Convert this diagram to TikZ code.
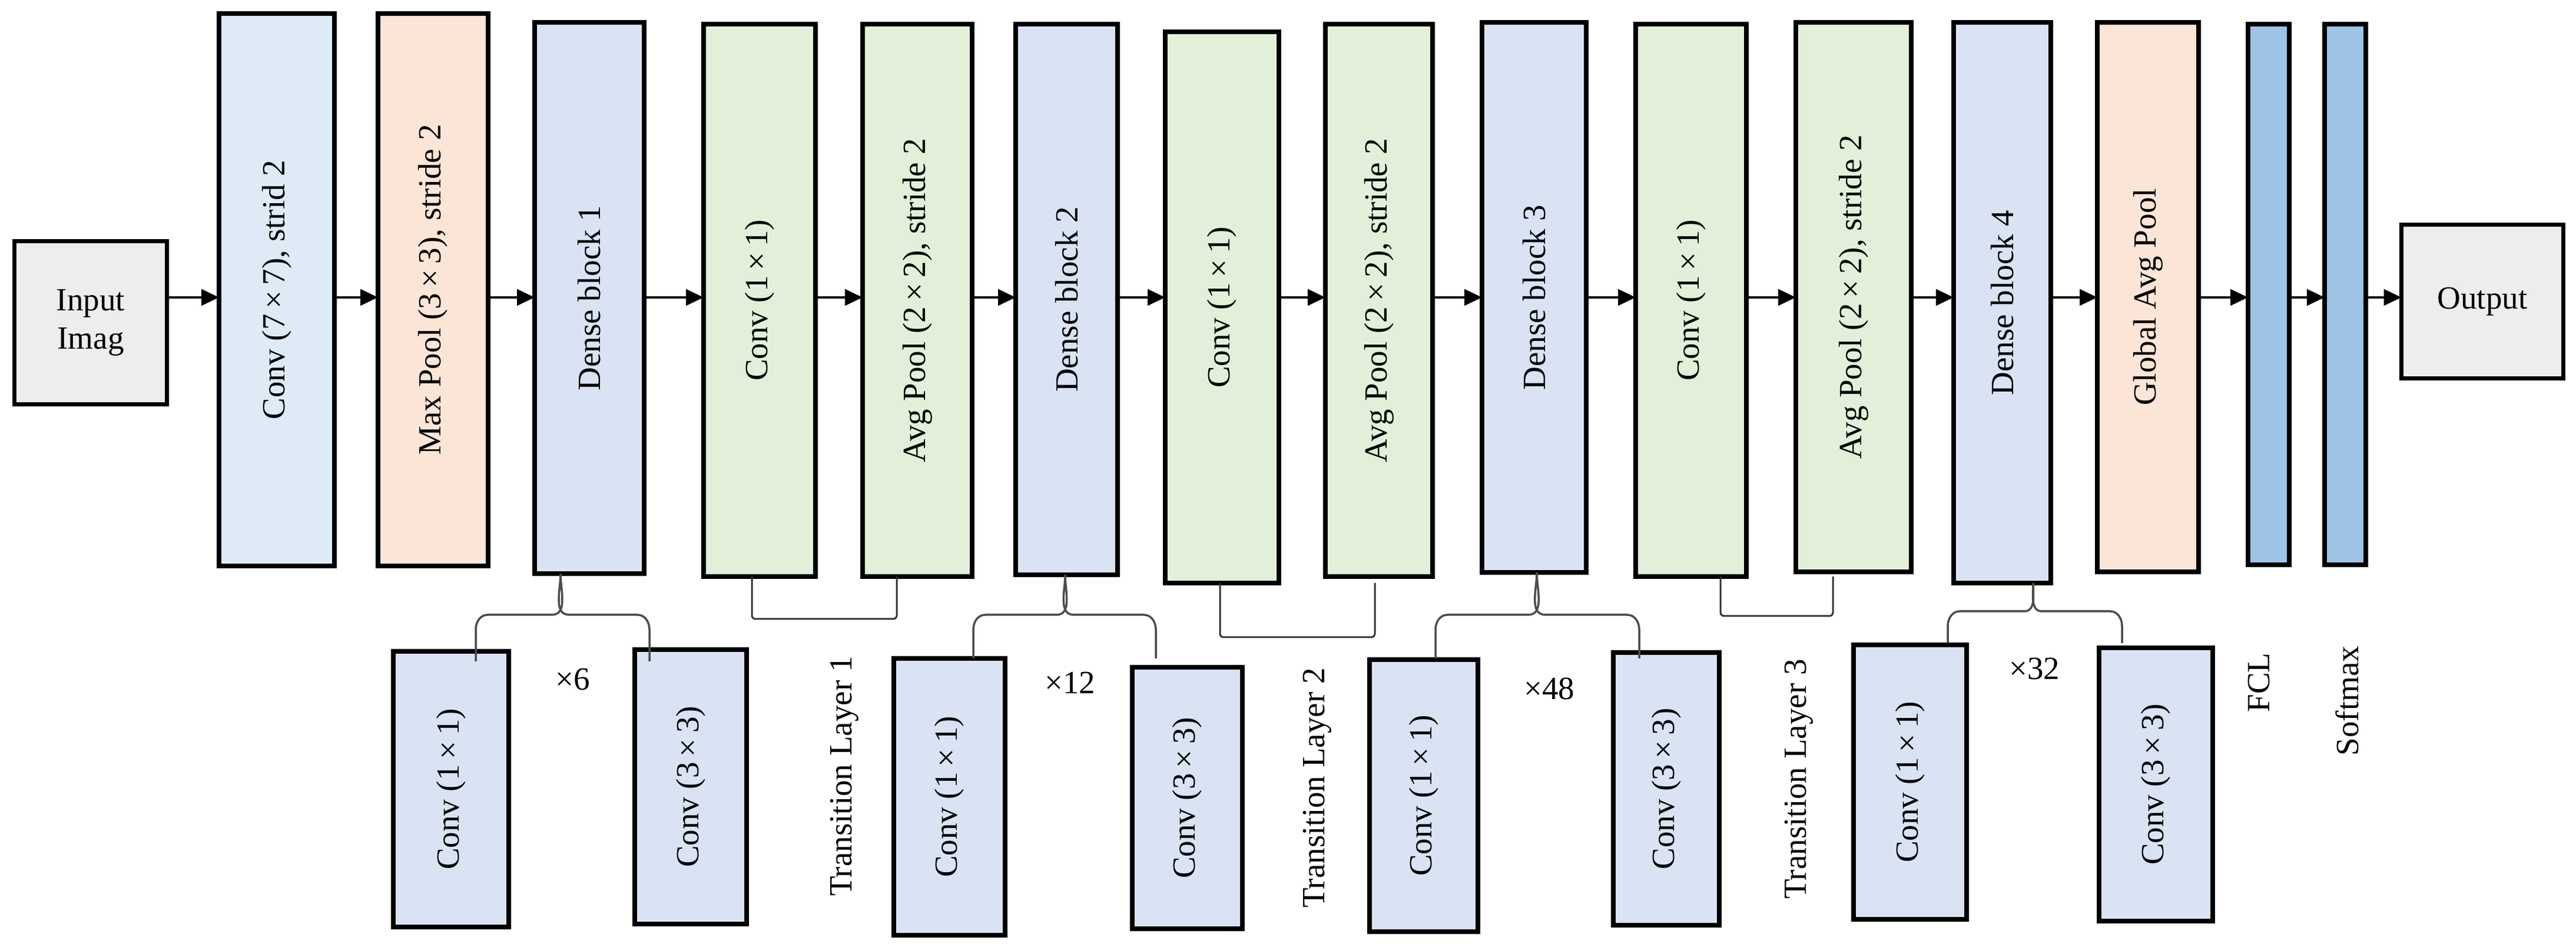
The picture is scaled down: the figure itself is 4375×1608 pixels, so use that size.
\documentclass[tikz,border=0pt]{standalone}
\usepackage{fontspec}
\setmainfont{Liberation Serif}
\usetikzlibrary{arrows.meta}
\definecolor{cA}{HTML}{DEEBF7}
\definecolor{cP}{HTML}{FBE5D6}
\definecolor{cD}{HTML}{DAE3F3}
\definecolor{cG}{HTML}{E2F0D9}
\definecolor{cY}{HTML}{EDEDED}
\definecolor{cB}{HTML}{9DC3E6}
\tikzset{
  box/.style={draw=black,line width=1.5pt,inner sep=0pt,outer sep=0pt},
  lbl/.style={font=\fontsize{11}{13}\selectfont},
  arr/.style={line width=0.8pt,-{Triangle[length=6pt,width=5.5pt]}},
  brc/.style={line width=0.7pt,draw=black!70},
  brk/.style={line width=0.6pt,draw=black!80}
}
\newcommand\bx[7]{\node[box,fill=#6,minimum width={(#4-#2)*0.2pt},minimum height={(#5-#3)*0.2pt}] (#1) at ({(#2+#4)/2},{(#3+#5)/2}) {};
\node[lbl,rotate=90] at (#1) {#7};}
\newcommand\ar[2]{\draw[arr] (#1.east |- ay) -- (#2.west |- ay);}
% tipx tipy lx rx hy by
\newcommand\mybrace[6]{\draw[brc] (#3,#6) -- (#3,#5+25) to[out=90,in=180] (#3+20,#5) -- (#1-15,#5) to[out=0,in=-90] (#1,#2)
  to[out=-90,in=180] (#1+15,#5) -- (#4-20,#5) to[out=0,in=90] (#4,#5+25) -- (#4,#6);}
\newcommand\mybrk[4]{\draw[brk] (#1,#3) -- (#1,#4-6) to[out=-90,in=180] (#1+6,#4) -- (#2-6,#4) to[out=0,in=-90] (#2,#4-6) -- (#2,#3);}
\begin{document}
\begin{tikzpicture}[x=0.2pt,y=-0.2pt]
\useasboundingbox (0,0) rectangle (4375,1608);
\coordinate (ay) at (0,505);
% top row
\node[box,fill=cY,minimum width={259*0.2pt},minimum height={277*0.2pt},align=center,lbl] (in) at (154,548) {Input\\Imag};
\bx{c7}{372}{23}{568}{961}{cA}{Conv (7\,×\,7), strid 2}
\bx{mp}{642}{23}{829}{961}{cP}{Max Pool (3\,×\,3), stride 2}
\bx{d1}{908}{38}{1094}{974}{cD}{Dense block 1}
\bx{t1c}{1195}{41}{1385}{979}{cG}{Conv (1\,×\,1)}
\bx{t1p}{1465}{41}{1651}{979}{cG}{Avg Pool (2\,×\,2), stride 2}
\bx{d2}{1725}{41}{1898}{976}{cD}{Dense block 2}
\bx{t2c}{1979}{54}{2172}{990}{cG}{Conv (1\,×\,1)}
\bx{t2p}{2251}{41}{2433}{979}{cG}{Avg Pool (2\,×\,2), stride 2}
\bx{d3}{2517}{38}{2694}{972}{cD}{Dense block 3}
\bx{t3c}{2778}{41}{2966}{979}{cG}{Conv (1\,×\,1)}
\bx{t3p}{3050}{38}{3246}{971}{cG}{Avg Pool (2\,×\,2), stride 2}
\bx{d4}{3318}{38}{3483}{990}{cD}{Dense block 4}
\bx{gap}{3562}{38}{3734}{971}{cP}{Global Avg Pool}
\bx{fcl}{3818}{41}{3888}{959}{cB}{}
\bx{sm}{3948}{41}{4018}{959}{cB}{}
\node[box,fill=cY,minimum width={275*0.2pt},minimum height={261*0.2pt},lbl] (out) at (4216,512) {Output};
% arrows
\ar{in}{c7}\ar{c7}{mp}\ar{mp}{d1}\ar{d1}{t1c}\ar{t1c}{t1p}\ar{t1p}{d2}\ar{d2}{t2c}\ar{t2c}{t2p}
\ar{t2p}{d3}\ar{d3}{t3c}\ar{t3c}{t3p}\ar{t3p}{d4}\ar{d4}{gap}\ar{gap}{fcl}\ar{fcl}{sm}\ar{sm}{out}
% bottom row
\bx{a1}{668}{1106}{864}{1574}{cD}{Conv (1\,×\,1)}
\bx{b1}{1078}{1103}{1268}{1569}{cD}{Conv (3\,×\,3)}
\bx{a2}{1518}{1118}{1707}{1588}{cD}{Conv (1\,×\,1)}
\bx{b2}{1923}{1133}{2110}{1577}{cD}{Conv (3\,×\,3)}
\bx{a3}{2326}{1120}{2510}{1582}{cD}{Conv (1\,×\,1)}
\bx{b3}{2740}{1108}{2920}{1571}{cD}{Conv (3\,×\,3)}
\bx{a4}{3148}{1095}{3340}{1561}{cD}{Conv (1\,×\,1)}
\bx{b4}{3565}{1100}{3758}{1564}{cD}{Conv (3\,×\,3)}
% braces
\mybrace{952}{974}{808}{1103}{1044}{1123}
\mybrace{1809}{976}{1653}{1963}{1044}{1118}
\mybrace{2610}{972}{2438}{2784}{1044}{1118}
\mybrace{3453}{990}{3308}{3604}{1038}{1092}
% transition brackets
\mybrk{1277}{1523}{979}{1051}
\mybrk{2072}{2335}{990}{1082}
\mybrk{2922}{3113}{979}{1046}
% labels
\node[lbl] (x6) at (973,1154) {×6};
\node[lbl] (x12) at (1817,1159) {×12};
\node[lbl] (x48) at (2631,1169) {×48};
\node[lbl] (x32) at (3455,1136) {×32};
\node[lbl,rotate=90] (tl1) at (1434,1318) {Transition Layer 1};
\node[lbl,rotate=90] (tl2) at (2237,1338) {Transition Layer 2};
\node[lbl,rotate=90] (tl3) at (3055,1323) {Transition Layer 3};
\node[lbl,rotate=90] (fl) at (3837,1159) {FCL};
\node[lbl,rotate=90] (sl) at (3986,1190) {Softmax};
\end{tikzpicture}
\end{document}
